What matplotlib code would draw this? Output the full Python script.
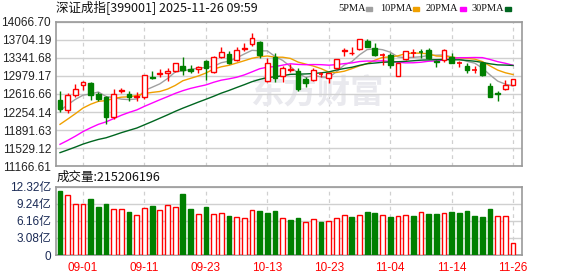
import matplotlib
matplotlib.use("Agg")
import matplotlib.pyplot as plt
import numpy as np

# 60 trading days, 2025-08-27 .. 2025-11-26
dates = (["08-27", "08-28", "08-29"]
         + ["09-01", "09-02", "09-03", "09-04", "09-05", "09-08", "09-09", "09-10", "09-11", "09-12",
            "09-15", "09-16", "09-17", "09-18", "09-19", "09-22", "09-23", "09-24", "09-25", "09-26",
            "09-29", "09-30"]
         + ["10-09", "10-10", "10-13", "10-14", "10-15", "10-16", "10-17", "10-20", "10-21", "10-22",
            "10-23", "10-24", "10-27", "10-28", "10-29", "10-30", "10-31"]
         + ["11-03", "11-04", "11-05", "11-06", "11-07", "11-10", "11-11", "11-12", "11-13", "11-14",
            "11-17", "11-18", "11-19", "11-20", "11-21", "11-24", "11-25", "11-26"])

opens = [12497, 12297, 12597, 12797, 12840, 12617, 12547, 12160, 12677, 12617,
         12545, 12555, 12965, 13009, 13041, 13081, 13176, 13115, 13115, 13266,
         13061, 13365, 13410, 13286, 13516, 13616, 13662, 12875, 13362, 12969,
         13105, 13085, 12909, 12895, 13019, 12929, 13129, 13475, 13430, 13510,
         13682, 13530, 13390, 13396, 12985, 13310, 13430, 13460, 13496, 13285,
         13286, 13350, 13225, 13175, 13085, 13242, 12775, 12632, 12721, 12795]
highs = [12683, 12637, 12817, 12871, 12857, 12663, 12577, 12711, 12731, 12683,
         12655, 12987, 13081, 13109, 13135, 13245, 13356, 13195, 13175, 13296,
         13375, 13550, 13476, 13556, 13630, 13842, 13686, 13330, 13426, 13175,
         13225, 13135, 12961, 13129, 13061, 13045, 13315, 13530, 13562, 13715,
         13722, 13630, 13430, 13430, 13245, 13480, 13510, 13510, 13530, 13305,
         13510, 13430, 13282, 13242, 13175, 13262, 12841, 12680, 12895, 12915]
lows = [12263, 12237, 12557, 12697, 12497, 12483, 12014, 12114, 12627, 12483,
        12465, 12515, 12921, 12965, 12885, 13065, 12995, 13035, 13029, 12895,
        13045, 13330, 13215, 13266, 13482, 13566, 13330, 12865, 12855, 12845,
        13055, 12675, 12761, 12881, 12961, 12829, 13120, 13376, 13396, 13505,
        13550, 13376, 13195, 13129, 12980, 13305, 13362, 13330, 13315, 13160,
        13255, 13229, 13162, 13041, 13029, 12975, 12555, 12480, 12695, 12785]
closes = [12317, 12597, 12711, 12857, 12597, 12511, 12147, 12607, 12697, 12549,
          12577, 12987, 12941, 13035, 13075, 13241, 13095, 13085, 13165, 13145,
          13362, 13450, 13242, 13490, 13536, 13730, 13396, 13242, 12929, 13135,
          13121, 12715, 12841, 13095, 13025, 13040, 13309, 13495, 13442, 13710,
          13562, 13396, 13400, 13195, 13239, 13476, 13440, 13450, 13330, 13265,
          13496, 13242, 13235, 13100, 13092, 12995, 12561, 12615, 12795, 12909]
# volume in 亿
volumes = [11.55, 10.83, 9.15, 9.15, 10.1, 8.66, 9.2, 8.3, 8.3, 7.76,
           7.22, 8.48, 8.84, 8.12, 8.96, 8.6, 11.0, 8.36, 7.4, 8.66,
           7.4, 7.52, 7.04, 6.86, 6.68, 8.06, 7.94, 7.58, 7.94, 6.68,
           6.32, 6.68, 5.9, 6.5, 6.0, 6.1, 6.68, 7.3, 6.86, 7.3,
           7.76, 7.58, 7.16, 6.86, 7.0, 7.16, 7.04, 7.7, 7.4, 7.4,
           7.58, 7.76, 7.58, 7.94, 7.04, 6.86, 8.3, 7.0, 7.0, 2.1]
# closes before the visible window (off-chart, estimated) so the MAs start where they do
prior_closes = [10950, 11010, 11060, 11120, 11190, 11150, 11100, 11130, 11160, 11190,
                11050, 11000, 11020, 11070, 11130, 11160, 11290, 11350, 11420, 11580,
                11550, 11630, 11720, 11830, 11940, 12000, 12170, 12440, 12473]

tick_dates = ["09-01", "09-11", "09-23", "10-13", "10-23", "11-04", "11-14", "11-26"]
price_ticks = [11166.61, 11529.12, 11891.63, 12254.14, 12616.66, 12979.17, 13341.68, 13704.19, 14066.70]
vol_ticks = [0, 3.08, 6.16, 9.24, 12.32]
vol_labels = ["0", "3.08亿", "6.16亿", "9.24亿", "12.32亿"]
ma_periods = [5, 10, 20, 30]
ma_colors = ["#a0a0a0", "#f0a000", "#ff00ff", "#006620"]

RED = "#ff0000"
GREEN = "#007f00"
GRID = "#d0d0d0"
FRAME = "#999999"
CJK = ["Liberation Sans", "Noto Sans CJK SC", "DejaVu Sans"]

plt.rcParams["font.family"] = CJK

n = len(closes)
x = np.arange(n)
o = np.array(opens)
h = np.array(highs)
l = np.array(lows)
c = np.array(closes)
up = c >= o
# volume bars follow the change against the previous close
prev = np.array([prior_closes[-1]] + closes[:-1])
vol_up = c >= prev

fig = plt.figure(figsize=(5.78, 2.76), dpi=100)
ax = fig.add_axes([56 / 578, 1 - 166.3 / 276, 466 / 578, 144.8 / 276])
axv = fig.add_axes([56 / 578, 1 - 255 / 276, 466 / 578, 68.3 / 276])

tick_idx = [dates.index(d) for d in tick_dates]

for a in (ax, axv):
    a.set_xlim(-0.52, 60.16)
    for s in a.spines.values():
        s.set_color(FRAME)
        s.set_linewidth(1.2)
    for t in tick_idx:
        a.axvline(t, color=GRID, lw=0.9, ls=(0, (3, 3)), zorder=0)
    a.tick_params(length=0)

# watermark
ax.text(0.56, 0.50, "东方财富", transform=ax.transAxes, fontsize=24, fontweight="bold",
        color="#e9e9ee", ha="center", va="center", family=["Noto Sans CJK SC"], zorder=0.5)

# moving averages
full = np.array(prior_closes + closes, dtype=float)
for p, col in zip(ma_periods, ma_colors):
    ma = np.convolve(full, np.ones(p) / p, mode="valid")[-n:]
    ax.plot(x, ma, color=col, lw=1.0, zorder=2)

# candles
w = 0.62
for i in range(n):
    col = RED if up[i] else GREEN
    ax.vlines(x[i], l[i], h[i], color=col, lw=1.0, zorder=3)
    lo, hi = min(o[i], c[i]), max(o[i], c[i])
    if hi - lo < 12:
        ax.hlines((o[i] + c[i]) / 2, x[i] - w / 2, x[i] + w / 2, color=col, lw=1.2, zorder=4)
    else:
        ax.bar(x[i], hi - lo, bottom=lo, width=w, facecolor="white" if up[i] else GREEN,
               edgecolor=col, linewidth=1.0, zorder=4)

ax.set_ylim(price_ticks[0], price_ticks[-1])
ax.set_yticks(price_ticks)
ax.set_yticklabels([f"{v:.2f}" for v in price_ticks], fontsize=8.5, color="#222222")
ax.yaxis.grid(True, color=GRID, lw=1.0)
ax.set_axisbelow(True)
ax.set_xticks([])

# volume
vcols = [RED if u else GREEN for u in vol_up]
axv.bar(x, volumes, width=0.62, color=["white" if u else GREEN for u in vol_up],
        edgecolor=vcols, linewidth=1.0, zorder=3)
axv.set_ylim(0, vol_ticks[-1])
axv.set_yticks(vol_ticks)
axv.set_yticklabels(vol_labels, fontsize=8.5, color="#1a2a55")
axv.yaxis.grid(True, color=GRID, lw=1.0)
axv.set_axisbelow(True)
axv.set_xticks(tick_idx)
axv.set_xticklabels(tick_dates, fontsize=8.5, color=RED)
axv.tick_params(axis="x", pad=5)

# header texts
fig.text(56 / 578, 1 - 8 / 276, "深证成指[399001] 2025-11-26 09:59", fontsize=9,
         va="center", ha="left", color="#111111", family=["Noto Sans CJK SC", "DejaVu Sans"])
fig.text(57 / 578, 1 - 177 / 276, "成交量:215206196", fontsize=9,
         va="center", ha="left", color="#111111", family=["Noto Sans CJK SC", "DejaVu Sans"])

# MA legend: label x, swatch x (pixels)
legend_text_x = [338, 380, 426, 472]
legend_box_x = [366, 413, 460, 505]
for p, col, tx, bx in zip(ma_periods, ma_colors, legend_text_x, legend_box_x):
    fig.text(tx / 578, 1 - 8.5 / 276, f"{p}PMA", fontsize=7.5, va="center", ha="left",
             color="#111111", family=["Liberation Serif"])
    fig.patches.append(plt.Rectangle((bx / 578, 1 - 10.5 / 276), 6 / 578, 4 / 276,
                                     transform=fig.transFigure, color=col))

fig.savefig("out.png", dpi=100)
